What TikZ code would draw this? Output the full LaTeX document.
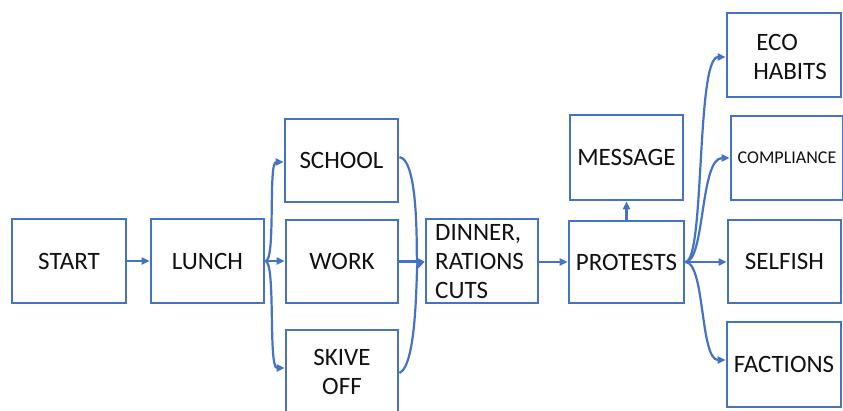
\documentclass[tikz,border=0pt]{standalone}
\usepackage{fontspec}
\setmainfont{Carlito}
\usetikzlibrary{arrows.meta}
\definecolor{bblue}{HTML}{4472C4}
\definecolor{txt}{HTML}{111111}
\tikzset{
  box/.style={draw=bblue, line width=2.8pt, inner sep=0pt, font=\fontsize{25}{29}\selectfont, text=txt},
  lbl/.style={font=\fontsize{25}{29}\selectfont, text=txt, inner sep=0pt},
  conn/.style={draw=bblue, line width=2.2pt, -{Triangle[length=8pt,width=7pt]}},
}
\begin{document}
\begin{tikzpicture}[x=1pt,y=-1pt]
\clip (0,0) rectangle (843,410);
\fill[white] (0,0) rectangle (843,410);
% boxes
\node[box, minimum width=114pt, minimum height=84pt] (start) at (69,261) {START};
\node[box, minimum width=113pt, minimum height=84pt] (lunch) at (207.5,261) {LUNCH};
\node[box, minimum width=113pt, minimum height=83pt] (school) at (341.5,160.5) {SCHOOL};
\node[box, minimum width=112pt, minimum height=83pt] (work) at (342,261.5) {WORK};
\node[box, minimum width=112pt, minimum height=100pt] (skive) at (342,380) {};
\node[lbl, align=center] (skivet) at (342,372) {SKIVE\\OFF};
\node[box, minimum width=112pt, minimum height=84pt] (dinner) at (482,261) {};
\node[lbl, align=left, anchor=west] (dinnert) at (435,262) {DINNER,\\RATIONS\\CUTS};
\node[box, minimum width=115pt, minimum height=82pt] (protests) at (626.5,262) {PROTESTS};
\node[box, minimum width=113pt, minimum height=85pt] (message) at (626.5,157.5) {MESSAGE};
\node[box, minimum width=114pt, minimum height=84pt] (eco) at (784,55) {};
\node[lbl, align=left] (ecot) at (790,57) {\hspace{3pt}ECO\\HABITS};
\node[box, minimum width=112pt, minimum height=84pt, font=\fontsize{18}{22}\selectfont] (compl) at (787,158) {COMPLIANCE};
\node[box, minimum width=113pt, minimum height=83pt] (selfish) at (784.5,261.5) {SELFISH};
\node[box, minimum width=114pt, minimum height=85pt] (factions) at (784,364.5) {FACTIONS};
% connectors
\draw[conn] (start.east) -- (lunch.west);
\draw[conn] (lunch.east) -- (lunch.east -| work.west);
\draw[conn] (lunch.east) .. controls (276,262) and (268,162) .. (school.west |- 0,162);
\draw[conn] (lunch.east) .. controls (276,262) and (268,368) .. (skive.west |- 0,368);
\draw[conn] (work.east) -- (work.east -| dinner.west);
\draw[conn] (school.east |- 0,157) .. controls (420,160) and (416,262) .. (dinner.west |- 0,262);
\draw[conn] (skive.east |- 0,373) .. controls (418,365) and (416,265) .. (dinner.west |- 0,262);
\draw[conn] (dinner.east |- 0,262) -- (protests.west |- 0,262);
\draw[conn] (protests.north) -- (message.south);
\draw[conn] (protests.east) -- (protests.east -| selfish.west);
\draw[conn] (protests.east) .. controls (705,262) and (696,57) .. (eco.west |- 0,57);
\draw[conn] (protests.east) .. controls (705,262) and (700,158) .. (compl.west |- 0,158);
\draw[conn] (protests.east) .. controls (705,262) and (700,360) .. (factions.west |- 0,360);
\end{tikzpicture}
\end{document}
